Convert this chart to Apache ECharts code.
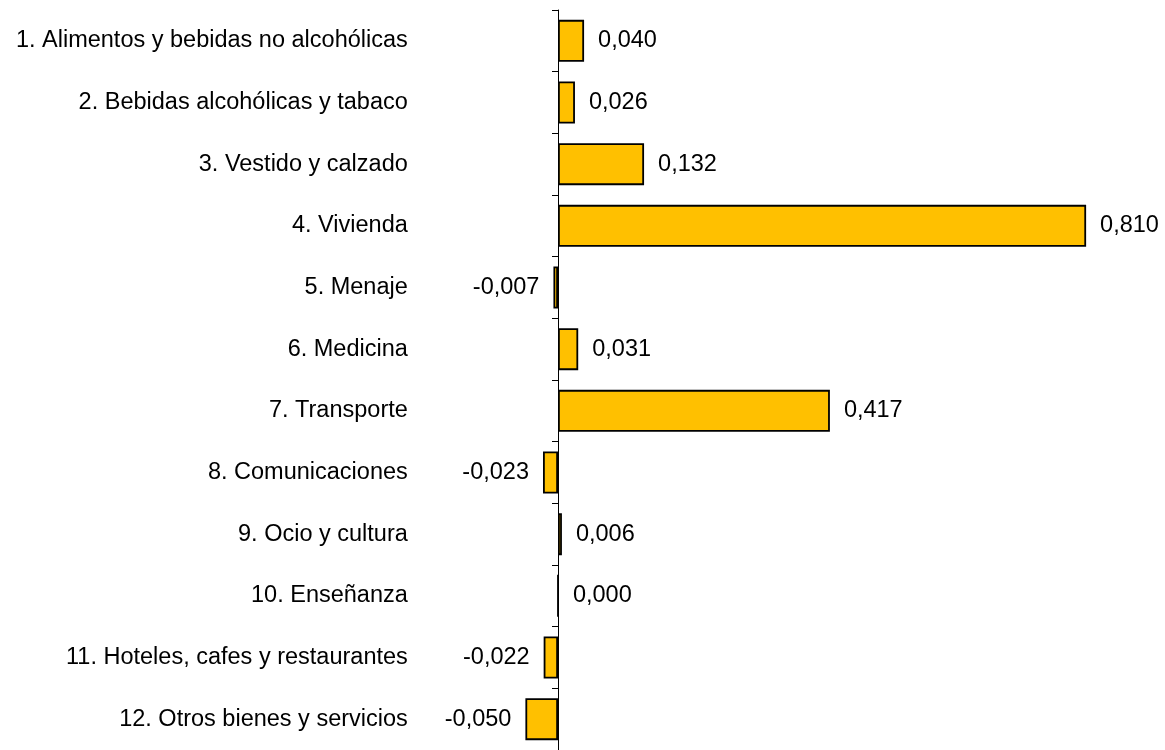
<!DOCTYPE html>
<html><head><meta charset="utf-8">
<script src="https://cdn.jsdelivr.net/npm/echarts@6/dist/echarts.min.js"></script>
<style>html,body{margin:0;padding:0;background:#fff}#c{width:1165px;height:750px}</style>
</head><body><div id="c"></div>
<script>
var categories = ["1. Alimentos y bebidas no alcohólicas","2. Bebidas alcohólicas y tabaco","3. Vestido y calzado","4. Vivienda","5. Menaje","6. Medicina","7. Transporte","8. Comunicaciones","9. Ocio y cultura","10. Enseñanza","11. Hoteles, cafes y restaurantes","12. Otros bienes y servicios"];
var values = [0.040, 0.026, 0.132, 0.810, -0.007, 0.031, 0.417, -0.023, 0.006, 0.000, -0.022, -0.050];

var chart = echarts.init(document.getElementById('c'), null, {renderer:'canvas'});
var font = '"Liberation Sans", Arial, sans-serif';
chart.setOption({
  animation:false,
  grid:{left:492.8, top:10, width:652, height:740, containLabel:false},
  xAxis:{type:'value', min:-0.1, max:0.9, show:false},
  yAxis:{type:'category', data:categories, inverse:true,
    axisLine:{show:true, onZero:true, lineStyle:{color:'#000', width:1}},
    axisTick:{show:true, length:6, lineStyle:{color:'#000'}},
    axisLabel:{color:'#000', fontSize:23.5, fontFamily:font, margin:85}
  },
  series:[{type:'bar', barWidth:'68%',
    data: values.map(function(v){
      return {value:v, label:{position: v<0 ? 'left' : 'right'}};
    }),
    itemStyle:{color:'#FFC000', borderColor:'#000', borderWidth:1.8},
    label:{show:true, distance:14, color:'#000', fontSize:23.5, fontFamily:font,
      formatter:function(p){return p.value.toFixed(3).replace('.',',');}}
  }]
});
</script></body></html>
